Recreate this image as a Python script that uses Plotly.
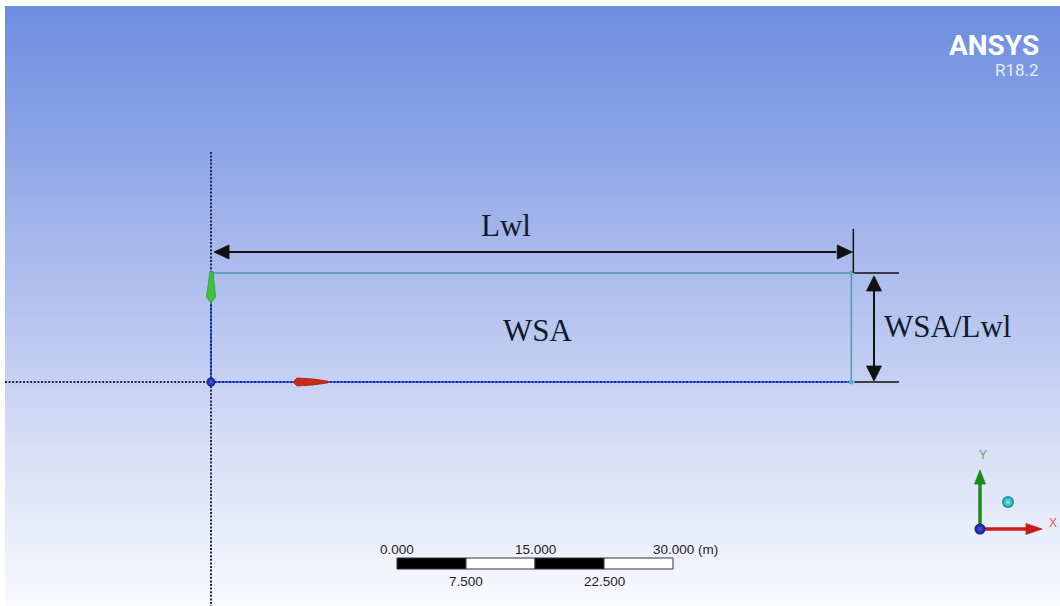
import numpy as np
import plotly.graph_objects as go

# ---------------- data (model units: metres) ----------------
lwl_length = 69.6              # Lwl
wsa_over_lwl = 11.85           # WSA/Lwl (rectangle height)
scale_ticks = [0.0, 7.5, 15.0, 22.5, 30.0]
scale_labels = ["0.000", "7.500", "15.000", "22.500", "30.000"]
scale_unit = "(m)"
dim_labels = ["Lwl", "WSA", "WSA/Lwl"]
logo_texts = ["ANSYS", "R18.2"]
triad_labels = ["X", "Y"]

# ---------------- view / screen mapping ----------------
W, H = 1060, 606
S = 9.2                 # pixels per metre in this view
OX, OY = 211, 382       # screen position of the model origin


def mx(px):
    return (px - OX) / S


def my(py):
    return (OY - py) / S


def d(px):  # pixel distance -> metres
    return px / S


fig = go.Figure()


def line(xs, ys, color, width=1.5, dash=None):
    fig.add_trace(go.Scatter(x=xs, y=ys, mode="lines",
                             line=dict(color=color, width=width, dash=dash),
                             hoverinfo="skip", showlegend=False))


def poly(xs, ys, color, edge=None):
    fig.add_trace(go.Scatter(x=list(xs) + [xs[0]], y=list(ys) + [ys[0]],
                             mode="lines", fill="toself", fillcolor=color,
                             line=dict(color=edge or color, width=0.8),
                             hoverinfo="skip", showlegend=False))


def text(x, y, s, size, color, family, xanchor="center", bold=False):
    fig.add_annotation(x=x, y=y, text=s, showarrow=False, xanchor=xanchor,
                       yanchor="middle",
                       font=dict(size=size, color=color, family=family,
                                 weight="bold" if bold else "normal"))


# ---------------- background gradient ----------------
stops_py = [6, 120, 230, 330, 450, 606]
stops_r = [110, 134, 163, 185, 216, 249]
stops_g = [141, 160, 181, 199, 223, 250]
stops_b = [224, 229, 235, 240, 246, 254]
shapes = []
step = 3
for py in range(6, 606, step):
    c = py + step / 2
    r = np.interp(c, stops_py, stops_r)
    g = np.interp(c, stops_py, stops_g)
    b = np.interp(c, stops_py, stops_b)
    shapes.append(dict(type="rect", xref="paper", yref="paper", layer="below",
                       x0=5 / W, x1=1.0, y0=1 - (py + step + 0.6) / H,
                       y1=1 - py / H, line=dict(width=0),
                       fillcolor=f"rgb({r:.0f},{g:.0f},{b:.0f})"))

# ---------------- sketch axes (dotted) ----------------
navy = "#1b2452"
dots = "2px,1.6px"
line([0, 0], [my(152), my(606)], navy, 2, dots)
line([mx(5), 0], [0, 0], navy, 2, dots)

# rectangle (WSA / Lwl)
top_c = "#4f98b4"
line([0, lwl_length], [wsa_over_lwl, wsa_over_lwl], top_c, 1.5)
line([lwl_length, lwl_length], [0, wsa_over_lwl], top_c, 1.5)
line([0, lwl_length], [0, 0], "#5a6fe6", 2)
line([0, lwl_length], [0, 0], "#14239a", 2, dots)
line([0, 0], [0, wsa_over_lwl], "#5a6fe6", 2)
line([0, 0], [0, wsa_over_lwl], "#14239a", 2, dots)

# sketch direction glyphs
poly([d(-1), d(2), d(4.5), d(0), d(-4.5)],
     [wsa_over_lwl + d(1.5), wsa_over_lwl + d(1.5), wsa_over_lwl - d(24),
      wsa_over_lwl - d(30), wsa_over_lwl - d(24)], "#3fc23f", "#2a9a2a")
poly([d(82), d(86), d(102), d(117), d(117), d(102), d(86)],
     [0, d(4), d(3), d(0.8), d(-0.8), d(-3), d(-4)], "#cc2a1a", "#a01a10")

# points
fig.add_trace(go.Scatter(x=[lwl_length, lwl_length], y=[0, wsa_over_lwl],
                         mode="markers",
                         marker=dict(size=5, color="#5ab4c4"),
                         hoverinfo="skip", showlegend=False))
fig.add_trace(go.Scatter(x=[0], y=[0], mode="markers",
                         marker=dict(size=9, color="#121f8e",
                                     gradient=dict(type="radial", color="#4a5ce0")),
                         hoverinfo="skip", showlegend=False))

# ---------------- Lwl dimension ----------------
blk = "#111111"
ydim = my(252)
hl, hw = d(15), d(7)
line([hl, lwl_length - hl], [ydim, ydim], blk, 2)
poly([d(3), d(3) + hl, d(3) + hl], [ydim, ydim + hw, ydim - hw], blk)
poly([lwl_length + d(1), lwl_length + d(1) - hl, lwl_length + d(1) - hl],
     [ydim, ydim + hw, ydim - hw], blk)
line([lwl_length + d(2), lwl_length + d(2)], [wsa_over_lwl, my(229)], blk, 1.5)
text(mx(506), my(225), dim_labels[0], 31, "#111a2a", "Liberation Serif")

# ---------------- WSA text ----------------
text(mx(538), my(330), dim_labels[1], 31, "#111a2a", "Liberation Serif")

# ---------------- WSA/Lwl dimension ----------------
xe0, xe1 = lwl_length + d(3), mx(899)
line([xe0, xe1], [wsa_over_lwl, wsa_over_lwl], blk, 1.5)
line([xe0, xe1], [0, 0], blk, 1.5)
xv = mx(874)
ytop, ybot = wsa_over_lwl - d(3), d(1)
line([xv, xv], [ytop - hl, ybot + hl], blk, 2)
poly([xv, xv - d(7.5), xv + d(7.5)], [ytop, ytop - hl, ytop - hl], blk)
poly([xv, xv - d(7.5), xv + d(7.5)], [ybot, ybot + hl, ybot + hl], blk)
text(mx(947), my(326), dim_labels[2], 31, "#111a2a", "Liberation Serif")

# ---------------- scale bar ----------------
sb_x0 = mx(397)
sb_y0, sb_y1 = my(569), my(558)
for i in range(len(scale_ticks) - 1):
    shapes.append(dict(type="rect", xref="x", yref="y", layer="above",
                       x0=sb_x0 + scale_ticks[i], x1=sb_x0 + scale_ticks[i + 1],
                       y0=sb_y0, y1=sb_y1,
                       fillcolor="#000000" if i % 2 == 0 else "#ffffff",
                       line=dict(color="#333333", width=1)))
for i, (t, lab) in enumerate(zip(scale_ticks, scale_labels)):
    yy = my(549) if i % 2 == 0 else my(581)
    text(sb_x0 + t, yy, lab, 13.5, "#1e1e1e", "Liberation Sans")
text(sb_x0 + scale_ticks[-1] + d(23), my(549), scale_unit, 13.5, "#1e1e1e",
     "Liberation Sans", xanchor="left")

# ---------------- triad ----------------
tx, ty = mx(980), my(529)
line([tx, tx], [ty, ty + d(47)], "#1c8a1c", 3.5)
poly([tx, tx - d(5.5), tx + d(5.5)], [ty + d(59), ty + d(45), ty + d(45)],
     "#1c8a1c")
line([tx, tx + d(48)], [ty, ty], "#c81c1c", 3.5)
poly([tx + d(62), tx + d(46), tx + d(46)], [ty, ty + d(5.5), ty - d(5.5)],
     "#c81c1c")
fig.add_trace(go.Scatter(x=[mx(1008)], y=[my(502)], mode="markers",
                         marker=dict(size=12, color="#0f8c96",
                                     gradient=dict(type="radial", color="#80eef0")),
                         hoverinfo="skip", showlegend=False))
fig.add_trace(go.Scatter(x=[tx], y=[ty], mode="markers",
                         marker=dict(size=11, color="#0c1a8a",
                                     gradient=dict(type="radial", color="#4a5ad8")),
                         hoverinfo="skip", showlegend=False))
text(mx(1053), my(523), triad_labels[0], 12, "#e05a5a", "Liberation Sans")
text(mx(983), my(455), triad_labels[1], 12, "#5aaa5a", "Liberation Sans")

# ---------------- logo ----------------
text(mx(1041), my(45), logo_texts[0], 28, "#ffffff", "Roboto", xanchor="right",
     bold=True)
text(mx(1041), my(70), logo_texts[1], 17, "#e6ecfa", "Roboto", xanchor="right")

fig.update_layout(
    width=W, height=H, margin=dict(l=0, r=0, t=0, b=0),
    paper_bgcolor="#ffffff", plot_bgcolor="rgba(0,0,0,0)",
    shapes=shapes, showlegend=False,
    xaxis=dict(range=[mx(0), mx(W)], visible=False, fixedrange=True),
    yaxis=dict(range=[my(H), my(0)], visible=False, fixedrange=True),
)

fig.write_html("out.html", config={"displayModeBar": False},
               post_script="document.body.style.margin='0px';"
                           "document.body.style.overflow='hidden';")
